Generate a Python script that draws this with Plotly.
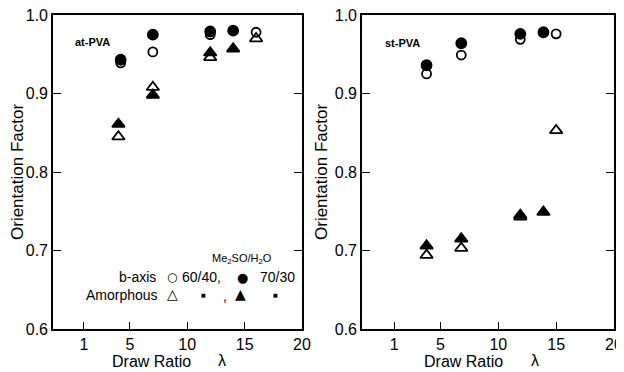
import plotly.graph_objects as go

# ---- data ----
x_ticks = [1, 5, 10, 15, 20]
y_ticks = [0.6, 0.7, 0.8, 0.9, 1.0]

# at-PVA (left panel)
at_b6040_x = [4.2, 7.0, 12.0, 16.0]
at_b6040_y = [0.939, 0.953, 0.975, 0.978]
at_b7030_x = [4.2, 7.0, 12.0, 14.0]
at_b7030_y = [0.943, 0.975, 0.979, 0.980]
at_a6040_x = [4.0, 7.0, 12.0, 16.0]
at_a6040_y = [0.845, 0.908, 0.946, 0.970]
at_a7030_x = [4.0, 7.0, 12.0, 14.0]
at_a7030_y = [0.861, 0.898, 0.952, 0.957]

# st-PVA (right panel)
st_b6040_x = [3.8, 6.8, 11.9, 15.0]
st_b6040_y = [0.925, 0.949, 0.969, 0.976]
st_b7030_x = [3.8, 6.8, 11.9, 13.9]
st_b7030_y = [0.936, 0.964, 0.976, 0.978]
st_a6040_x = [3.8, 6.8, 11.9, 15.0]
st_a6040_y = [0.694, 0.703, 0.743, 0.853]
st_a7030_x = [3.8, 6.8, 11.9, 13.9]
st_a7030_y = [0.706, 0.715, 0.745, 0.749]

FONT = "Liberation Sans"
SYM = "DejaVu Sans"
fig = go.Figure()

def add(x, y, symbol, size, xa, ya, name):
    fig.add_trace(go.Scatter(
        x=x, y=y, mode="markers", name=name, showlegend=False,
        xaxis=xa, yaxis=ya,
        marker=dict(symbol=symbol, size=size, color="black",
                    line=dict(color="black", width=1.8)),
    ))

add(at_a7030_x, at_a7030_y, "triangle-up", 11, "x", "y", "Amorphous 70/30")
add(at_a6040_x, at_a6040_y, "triangle-up-open", 11, "x", "y", "Amorphous 60/40")
add(at_b7030_x, at_b7030_y, "circle", 10, "x", "y", "b-axis 70/30")
add(at_b6040_x, at_b6040_y, "circle-open", 9, "x", "y", "b-axis 60/40")

add(st_a7030_x, st_a7030_y, "triangle-up", 11, "x2", "y2", "Amorphous 70/30")
add(st_a6040_x, st_a6040_y, "triangle-up-open", 11, "x2", "y2", "Amorphous 60/40")
add(st_b7030_x, st_b7030_y, "circle", 10, "x2", "y2", "b-axis 70/30")
add(st_b6040_x, st_b6040_y, "circle-open", 9, "x2", "y2", "b-axis 60/40")

# the page shows the figure offset by the 8px body margin
OFF = 8
W, H = 624 - OFF, 372 - OFF

def px(x):
    return (x - OFF) / W

def py(y):
    return 1 - (y - OFF) / H

ydom = [py(329), py(15)]

xcommon = dict(tickvals=x_ticks, ticktext=[str(v) for v in x_ticks],
               ticks="inside", ticklen=7, tickwidth=1.3, tickcolor="black",
               showline=True, linecolor="black", linewidth=1.6, mirror=True,
               showgrid=False, zeroline=False, automargin=False,
               ticklabeloverflow="allow",
               tickfont=dict(family=FONT, size=16, color="black"))
ycommon = dict(range=[0.6, 1.0], tickvals=y_ticks,
               ticktext=[f"{v:.1f}" for v in y_ticks],
               ticks="inside", ticklen=8, tickwidth=1.3, tickcolor="black",
               showline=True, linecolor="black", linewidth=1.6, mirror="ticks",
               showgrid=False, zeroline=False, automargin=False,
               ticklabeloverflow="allow",
               tickfont=dict(family=FONT, size=16, color="black"))

fig.update_layout(
    template="none",
    width=W, height=H,
    margin=dict(l=0, r=0, t=0, b=0, pad=0, autoexpand=False),
    paper_bgcolor="white", plot_bgcolor="white",
    xaxis=dict(domain=[px(53), px(302)], range=[-1.7, 20], anchor="y", **xcommon),
    yaxis=dict(domain=ydom, anchor="x", **ycommon),
    xaxis2=dict(domain=[px(362), px(614)], range=[-1.78, 20], anchor="y2", **xcommon),
    yaxis2=dict(domain=ydom, anchor="x2", **ycommon),
)

annotations = []

def note(x, y, text, size, family=FONT, angle=0):
    annotations.append(dict(
        xref="paper", yref="paper", x=px(x), y=py(y), text=text,
        showarrow=False, xanchor="center", yanchor="middle", textangle=angle,
        font=dict(family=family, size=size, color="black")))

# axis titles
note(18, 172, "Orientation Factor", 17, angle=-90)
note(322, 172, "Orientation Factor", 17, angle=-90)
note(151, 361, "Draw Ratio", 16)
note(222, 360, "λ", 16)
note(463, 361, "Draw Ratio", 16)
note(535, 360, "λ", 16)

# panel labels
note(92, 42, "<b>at-PVA</b>", 11)
note(402, 43, "<b>st-PVA</b>", 11)

# legend text
note(242, 259, "Me<sub>2</sub>SO/H<sub>2</sub>O", 11)
note(137, 277, "b-axis", 14)
note(172, 277, "○", 12, family=SYM)
note(201, 277, "60/40,", 14)
note(242, 277, "●", 13, family=SYM)
note(277, 277, "70/30", 14)
note(122, 295, "Amorphous", 14)
note(172, 294, "△", 14, family=SYM)
note(203, 295, "■", 5, family=SYM)
note(225, 296, ",", 14)
note(240, 294, "▲", 14, family=SYM)
note(275, 295, "■", 5, family=SYM)

fig.update_layout(annotations=annotations)
fig.write_html("out.html")
